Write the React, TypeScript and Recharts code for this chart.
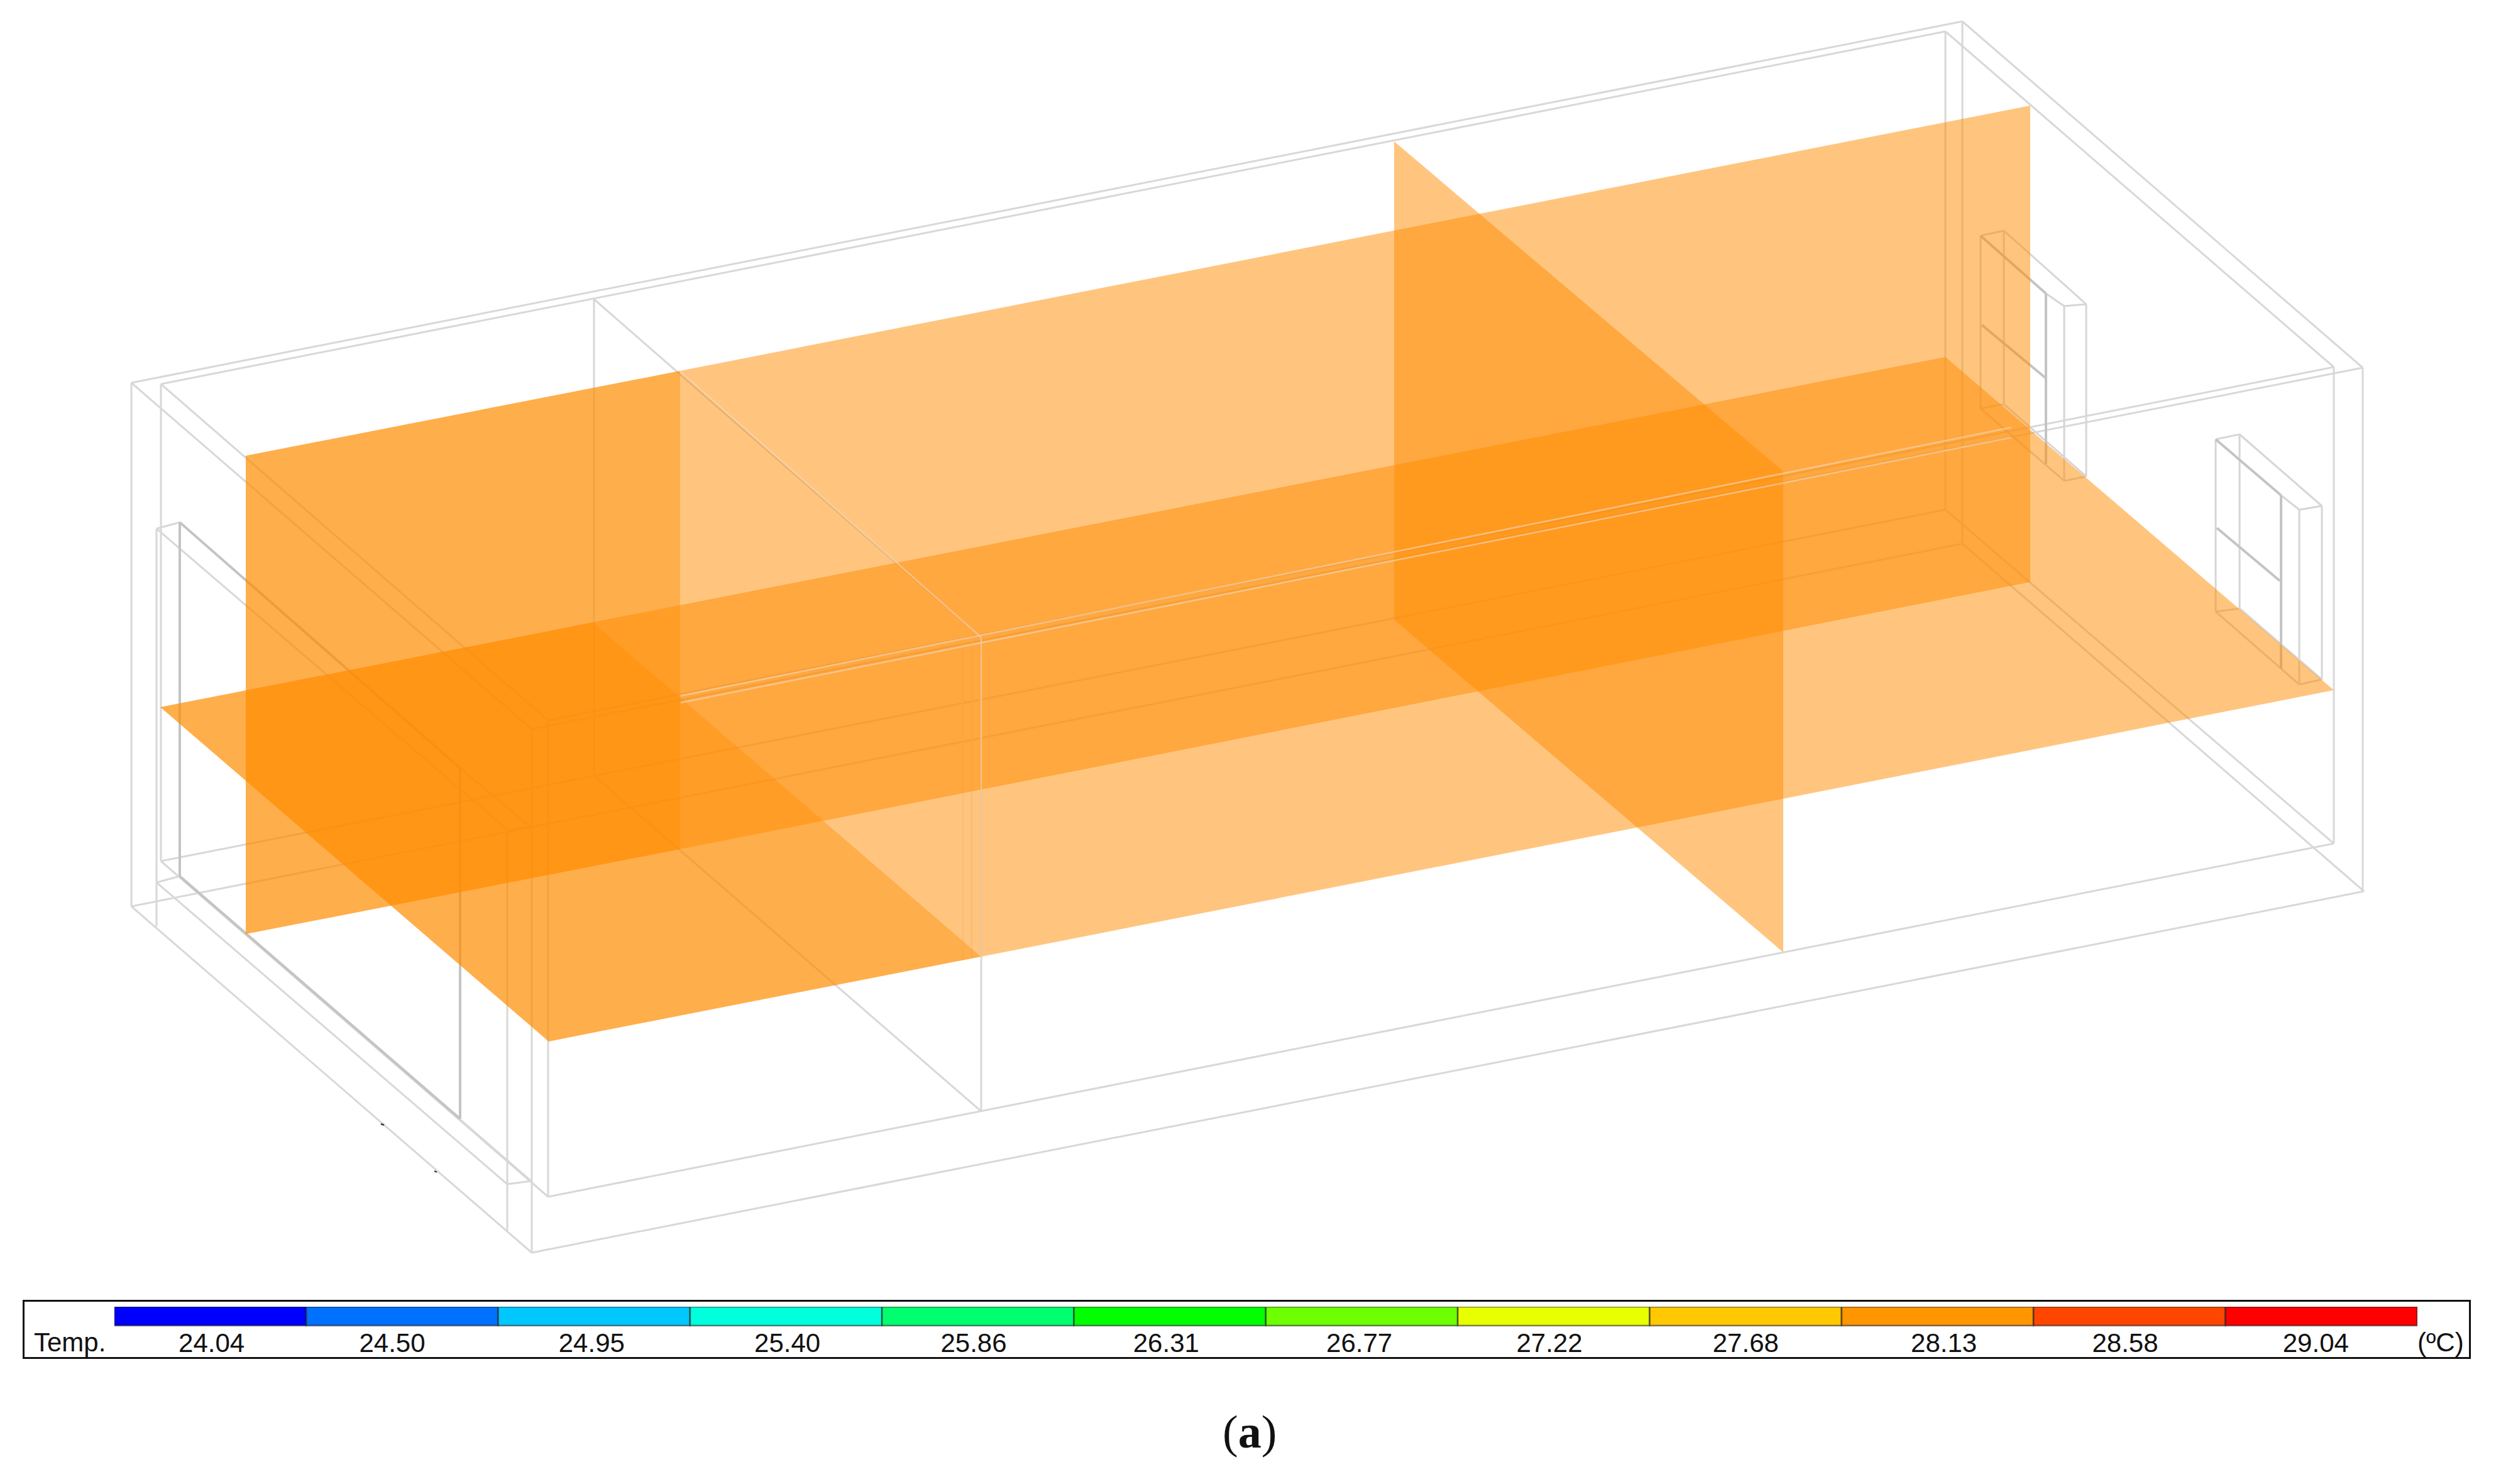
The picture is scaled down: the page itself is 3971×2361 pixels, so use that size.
// App.tsx
import { Area, Bar, BarChart, Cell, ComposedChart, Line, XAxis, YAxis } from 'recharts'

type Point = { x: number; y: number }
type Band = { x: number; top: number; bottom: number }

const WIDTH = 3971
const HEIGHT = 2361

// colour scale
const TEMP_LABELS = ['24.04', '24.50', '24.95', '25.40', '25.86', '26.31', '26.77', '27.22', '27.68', '28.13', '28.58', '29.04']
const TEMP_COLORS = ['#0000ff', '#0070ff', '#00c8ff', '#00ffdc', '#00ff6e', '#00ff00', '#6eff00', '#e8ff00', '#ffc800', '#ff9600', '#ff4600', '#ff0000']
const LABEL_NUDGE = [2, -16, -4, 2, -7, -6, -4, -7, 0, 10, -7, -9]

// section planes as [x, top edge, bottom edge]
const LONG_PLANE_WARM: number[][] = [[391, 725, 1486], [1082, 590, 1351]]
const LONG_PLANE_COOL: number[][] = [[1082, 590, 1351], [3230, 168, 926]]
const FLOOR_PLANE_WARM: number[][] = [[255, 1125, 1125], [873, 1004, 1657], [943, 990, 1643], [1561, 1522, 1522]]
const FLOOR_PLANE_COOL: number[][] = [[943, 990, 990], [1561, 869, 1522], [3095, 568, 1220], [3713, 1098, 1098]]
const CROSS_PLANE: number[][] = [[2218, 225, 986], [2837, 750, 1515]]

// room wireframe, each entry is x1, y1, x2, y2
const SHELL_EDGES: number[][] = [
    [209, 609, 3122, 34],
    [256, 611, 3095, 50],
    [3122, 34, 3759, 585],
    [3095, 50, 3713, 584],
    [846, 1160, 3759, 585],
    [872, 1146, 3713, 584],
    [209, 609, 846, 1160],
    [256, 611, 872, 1146],
    [209, 1442, 3122, 865],
    [256, 1370, 3095, 811],
    [209, 1442, 846, 1993],
    [256, 1370, 872, 1904],
    [3122, 865, 3761, 1418],
    [3095, 811, 3713, 1342],
    [846, 1993, 3761, 1418],
    [872, 1904, 3713, 1342],
    [209, 609, 209, 1442],
    [256, 611, 256, 1370],
    [846, 1160, 846, 1993],
    [872, 1146, 872, 1904],
    [3122, 34, 3122, 865],
    [3095, 50, 3095, 811],
    [3713, 584, 3713, 1342],
    [3759, 585, 3759, 1418],
    [945, 476, 1561, 1014],
    [945, 476, 945, 1234],
    [945, 1234, 1561, 1768],
    [1561, 1014, 1561, 1768],
]
const FAINT_EDGES: number[][] = [
    [1532, 1022, 1532, 1528],
    [1546, 1020, 1546, 1525],
]
const DOOR_EDGES: number[][] = [
    [249, 841, 807, 1320],
    [249, 841, 286, 831],
    [807, 1320, 845, 1315],
    [732, 1222, 845, 1317],
    [249, 841, 249, 1474],
    [807, 1320, 807, 1958],
    [286, 1394, 845, 1879],
    [249, 1404, 807, 1884],
    [249, 1404, 286, 1394],
    [807, 1884, 845, 1879],
]
const DOOR_EDGES_HEAVY: number[][] = [
    [286, 831, 732, 1222],
    [286, 831, 286, 1394],
    [732, 1222, 732, 1780],
    [286, 1394, 732, 1780],
]
const WINDOW_EDGES: number[][] = [
    [3151, 375, 3188, 367],
    [3188, 367, 3319, 484],
    [3284, 487, 3319, 484],
    [3255, 467, 3284, 487],
    [3151, 375, 3151, 650],
    [3188, 367, 3188, 643],
    [3284, 487, 3284, 765],
    [3319, 484, 3319, 758],
    [3151, 650, 3188, 643],
    [3151, 650, 3284, 765],
    [3188, 643, 3319, 758],
    [3284, 765, 3319, 758],
    [3525, 699, 3563, 691],
    [3563, 691, 3694, 805],
    [3658, 811, 3694, 805],
    [3629, 788, 3658, 811],
    [3525, 699, 3525, 973],
    [3563, 691, 3563, 968],
    [3658, 811, 3658, 1089],
    [3694, 805, 3694, 1081],
    [3525, 973, 3563, 968],
    [3525, 973, 3658, 1089],
    [3563, 968, 3694, 1081],
    [3658, 1089, 3694, 1081],
]
const WINDOW_EDGES_HEAVY: number[][] = [
    [3151, 375, 3255, 467],
    [3153, 517, 3254, 601],
    [3255, 467, 3255, 738],
    [3525, 699, 3629, 788],
    [3527, 840, 3627, 924],
    [3629, 788, 3629, 1064],
]
// the edges that still read pale through the orange
const PALE_EDGES: number[][] = [
    [1083, 1107, 3200, 680],
    [1083, 1118, 3200, 696],
    [1082, 591, 1561, 1014],
    [1561, 1014, 1561, 1530],
]
const SPECK_EDGES: number[][] = [
    [606, 1788, 611, 1790],
    [691, 1863, 695, 1865],
]

const toBand = (rows: number[][]): Band[] => rows.map(([x, top, bottom]) => ({ x, top, bottom }))
const toPoints = ([x1, y1, x2, y2]: number[]): Point[] => [{ x: x1, y: y1 }, { x: x2, y: y2 }]
const bandRange = (row: Band) => [row.top, row.bottom]

const legendData = TEMP_LABELS.map((label) => ({ label, swatch: 1 }))

function renderEdges(name: string, edges: number[][], stroke: string, width: number, zIndex: number, opacity = 1) {
    return edges.map((edge, i) => (
        <Line
            key={`${name}-${i}`}
            data={toPoints(edge)}
            dataKey="y"
            stroke={stroke}
            strokeWidth={width}
            strokeOpacity={opacity}
            dot={false}
            activeDot={false}
            legendType="none"
            isAnimationActive={false}
            zIndex={zIndex}
        />
    ))
}

function renderPlane(name: string, rows: number[][], opacity: number) {
    return (
        <Area
            key={name}
            data={toBand(rows)}
            dataKey={bandRange}
            type="linear"
            stroke="none"
            fill="#ff8c00"
            fillOpacity={opacity}
            dot={false}
            activeDot={false}
            legendType="none"
            isAnimationActive={false}
            zIndex={200}
        />
    )
}

function LegendTick(props: any) {
    const { x, y, index, payload } = props
    return (
        <text x={x + LABEL_NUDGE[index]} y={y + 34} textAnchor="middle" fill="#111" fontSize={42} fontFamily="Liberation Sans">
            {payload.value}
        </text>
    )
}

const labelStyle = {
    position: 'absolute',
    fontFamily: 'Liberation Sans',
    fontSize: 42,
    lineHeight: '48px',
    color: '#111',
    whiteSpace: 'nowrap',
} as const

export default function App() {
    return (
        <div style={{ position: 'absolute', left: 0, top: 0, width: WIDTH, height: HEIGHT, background: '#fff', overflow: 'hidden' }}>
            <ComposedChart width={WIDTH} height={HEIGHT} margin={{ top: 0, right: 0, bottom: 0, left: 0 }}>
                <XAxis type="number" dataKey="x" domain={[0, WIDTH]} allowDataOverflow hide />
                <YAxis type="number" domain={[0, HEIGHT]} reversed allowDataOverflow hide />
                {renderEdges('shell', SHELL_EDGES, '#d8d8d8', 3, 50)}
                {renderEdges('faint', FAINT_EDGES, '#f0f0f0', 2.5, 50)}
                {renderEdges('door', DOOR_EDGES, '#d8d8d8', 3, 50)}
                {renderEdges('door-heavy', DOOR_EDGES_HEAVY, '#c4c4c4', 4, 50)}
                {renderEdges('window', WINDOW_EDGES, '#d6d6d6', 3, 50)}
                {renderEdges('window-heavy', WINDOW_EDGES_HEAVY, '#c4c4c4', 4, 50)}
                {renderEdges('speck', SPECK_EDGES, '#444444', 2.5, 50)}
                {renderPlane('long-warm', LONG_PLANE_WARM, 0.7)}
                {renderPlane('long-cool', LONG_PLANE_COOL, 0.5)}
                {renderPlane('floor-warm', FLOOR_PLANE_WARM, 0.7)}
                {renderPlane('floor-cool', FLOOR_PLANE_COOL, 0.5)}
                {renderPlane('cross', CROSS_PLANE, 0.5)}
                {renderEdges('pale', PALE_EDGES, '#f4d9c4', 2.5, 300, 0.6)}
            </ComposedChart>

            <div style={{ position: 'absolute', left: 36, top: 2068, width: 3895, height: 94, border: '3px solid #111', boxSizing: 'border-box' }} />
            <div style={{ position: 'absolute', left: 182, top: 2079 }}>
                <BarChart
                    width={3664}
                    height={90}
                    data={legendData}
                    barCategoryGap={0}
                    margin={{ top: 0, right: 0, bottom: 0, left: 0 }}
                >
                    <XAxis dataKey="label" interval={0} height={60} tickLine={false} axisLine={false} tick={LegendTick} />
                    <YAxis domain={[0, 1]} hide />
                    <Bar dataKey="swatch" isAnimationActive={false}>
                        {TEMP_COLORS.map((color) => (
                            <Cell key={color} fill={color} stroke="#1a1a1a" strokeOpacity={0.55} strokeWidth={2.5} />
                        ))}
                    </Bar>
                </BarChart>
            </div>
            <span style={{ ...labelStyle, left: 54, top: 2112 }}>Temp.</span>
            <span style={{ ...labelStyle, left: 3846, top: 2112 }}>(ºC)</span>
            <span style={{ position: 'absolute', left: 1945, top: 2236, fontFamily: 'Liberation Serif', fontSize: 74, lineHeight: '84px', color: '#111' }}>
                (<b>a</b>)
            </span>
        </div>
    )
}
